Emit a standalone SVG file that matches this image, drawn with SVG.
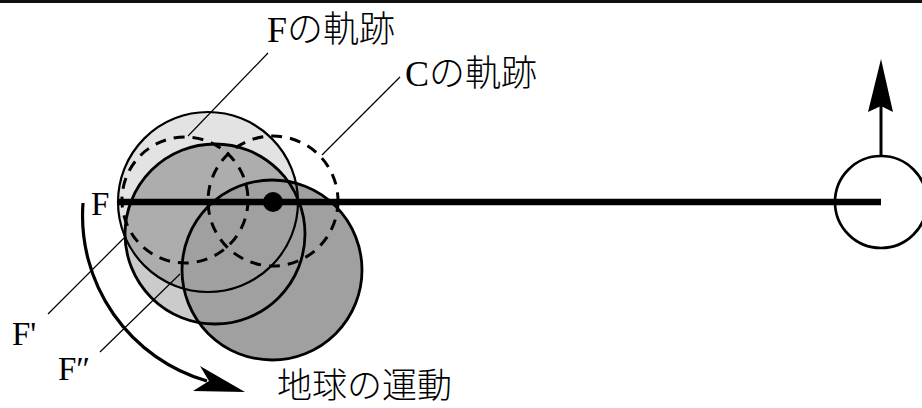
<svg xmlns="http://www.w3.org/2000/svg" width="922" height="408" viewBox="0 0 922 408">
  <style>
    .lbl { font-family: "Liberation Serif", "Noto Sans CJK JP", serif; fill: #000; font-weight: 300; }
    .big { font-size: 36px; }
    .small { font-size: 33px; }
    .outline { fill: none; stroke: #000; }
    .dash { fill: none; stroke: #000; stroke-width: 3; stroke-dasharray: 11 8; }
    .leader { fill: none; stroke: #000; stroke-width: 1.2; }
    .thick { fill: none; stroke: #000; stroke-width: 3.2; }
  </style>
  <defs>
    <clipPath id="clipD1"><circle cx="208" cy="202" r="90"/></clipPath>
  </defs>
  <rect x="0" y="0" width="922" height="408" fill="#fff"/>
  <line x1="0" y1="1.5" x2="922" y2="1.5" stroke="#111" stroke-width="3"/>

  <g id="earth-disks">
    <circle cx="208" cy="202" r="90" fill="#e3e3e3"/>
    <circle cx="215" cy="234" r="90" fill="#cbcbcb"/>
    <circle cx="215" cy="234" r="90" fill="#adadad" clip-path="url(#clipD1)"/>
    <circle cx="272" cy="270" r="90" fill="#a0a0a0"/>
    <circle class="outline" cx="208" cy="202" r="90" stroke-width="2.2"/>
    <circle class="outline" cx="215" cy="234" r="90" stroke-width="2.8"/>
    <circle class="outline" cx="272" cy="270" r="90" stroke-width="2.8"/>
  </g>

  <g id="trajectory-F">
    <circle class="dash" cx="185" cy="200" r="63"/>
  </g>
  <g id="trajectory-C">
    <circle class="dash" cx="273" cy="201" r="65"/>
  </g>

  <g id="connectors">
    <line x1="118" y1="202" x2="881" y2="202" stroke="#000" stroke-width="6.5"/>
    <line class="leader" x1="268" y1="53" x2="188" y2="136"/>
    <line class="leader" x1="400" y1="77" x2="322" y2="155"/>
    <line class="leader" x1="48" y1="314" x2="124" y2="238"/>
    <line class="leader" x1="100" y1="352" x2="180" y2="274"/>
    <path class="thick" d="M 83 203 A 172 172 0 0 0 207 381"/>
    <polygon points="245,392 200,366 209,381 193,391" fill="#000"/>
    <line x1="881" y1="156" x2="881" y2="104" stroke="#000" stroke-width="3"/>
    <polygon points="881,59 893,112 881,106 868,112" fill="#000"/>
  </g>

  <g id="barycenter">
    <circle cx="273" cy="202" r="10" fill="#000"/>
  </g>

  <g id="moon">
    <circle cx="881" cy="202" r="46" fill="none" stroke="#000" stroke-width="2.7"/>
  </g>

  <g id="labels">
    <text class="lbl big" x="277" y="398" style="font-size:35px">地球の運動</text>
    <text class="lbl big" x="267" y="42">Fの軌跡</text>
    <text class="lbl big" x="405" y="86">Cの軌跡</text>
    <text class="lbl small" x="91" y="215">F</text>
    <text class="lbl small" x="12" y="345">F'</text>
    <text class="lbl small" x="58" y="380">F″</text>
  </g>
</svg>
